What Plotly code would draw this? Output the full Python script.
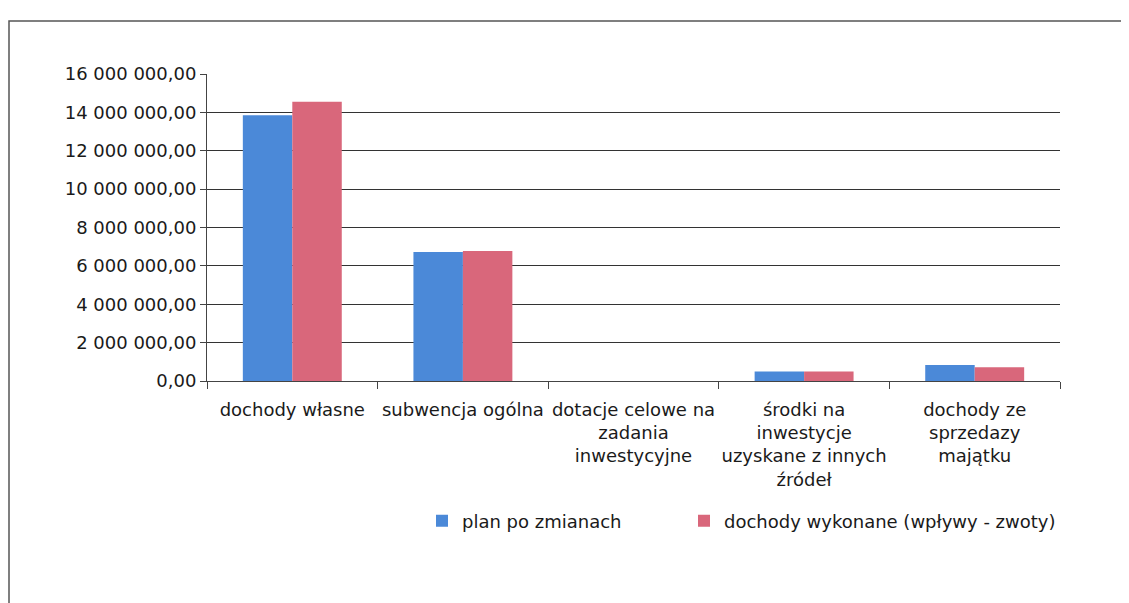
import plotly.graph_objects as go

categories = [
    "dochody własne",
    "subwencja ogólna",
    "dotacje celowe na<br>zadania<br>inwestycyjne",
    "środki na<br>inwestycje<br>uzyskane z innych<br>źródeł",
    "dochody ze<br>sprzedazy<br>majątku",
]
plan_po_zmianach = [13850000, 6720000, 0, 500000, 830000]
dochody_wykonane = [14550000, 6780000, 0, 500000, 720000]

tick_vals = [0, 2e6, 4e6, 6e6, 8e6, 10e6, 12e6, 14e6, 16e6]
tick_text = ["0,00", "2 000 000,00", "4 000 000,00", "6 000 000,00", "8 000 000,00",
             "10 000 000,00", "12 000 000,00", "14 000 000,00", "16 000 000,00"]

# page body adds an 8px offset, so figure coords = screen coords - 8
W, H = 1129, 603
L, R, T, B = 199, 77, 66, 230
pw, ph = W - L - R, H - T - B


def px_x(x):
    return (x - L) / pw


def px_y(y):
    return (H - B - y) / ph


fig = go.Figure()
fig.add_trace(go.Bar(x=categories, y=plan_po_zmianach, name="plan po zmianach",
                     marker=dict(color="#4b89d8", line=dict(width=0)), legend="legend"))
fig.add_trace(go.Bar(x=categories, y=dochody_wykonane, name="dochody wykonane (wpływy - zwoty)",
                     marker=dict(color="#d9677b", line=dict(width=0)), legend="legend2"))

# outer chart frame
fig.add_shape(type="rect", xref="paper", yref="paper",
              x0=px_x(1), x1=px_x(1140), y0=px_y(13), y1=px_y(620),
              line=dict(color="#555555", width=1.5))

legend_style = dict(orientation="h", xanchor="left", yanchor="middle", y=px_y(513),
                    itemwidth=30, font=dict(size=18), bgcolor="rgba(0,0,0,0)")

fig.update_layout(
    width=W, height=H,
    margin=dict(l=L, r=R, t=T, b=B),
    paper_bgcolor="white", plot_bgcolor="white",
    font=dict(family="'DejaVu Sans', sans-serif", size=18, color="#1a1a1a"),
    barmode="group", bargap=0.42, bargroupgap=0,
    showlegend=True,
    legend=dict(x=px_x(414), **legend_style),
    legend2=dict(x=px_x(676), **legend_style),
    xaxis=dict(showline=True, linecolor="#444444", linewidth=1, ticks="outside",
               tickson="boundaries", ticklen=7, tickcolor="#444444", showgrid=False,
               tickangle=0, ticklabelstandoff=12),
    yaxis=dict(range=[0, 16e6], tickvals=tick_vals, ticktext=tick_text,
               showgrid=True, gridcolor="#333333", gridwidth=1.2,
               showline=True, linecolor="#444444", linewidth=1,
               ticks="outside", ticklen=6, tickcolor="#444444", zeroline=False),
)

fig.write_html("out.html")
